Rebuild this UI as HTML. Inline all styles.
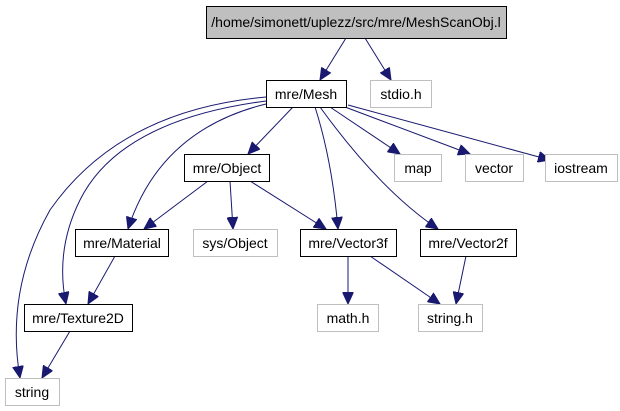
<!DOCTYPE html>
<html><head><meta charset="utf-8"><style>
body{margin:0;background:#fff}
svg{display:block}
text{font-family:"Liberation Sans",sans-serif;font-size:14px;text-anchor:middle}
</style></head><body>
<svg width="620" height="411" viewBox="0 0 620 411" xmlns="http://www.w3.org/2000/svg">
<defs><marker id="a" markerUnits="userSpaceOnUse" markerWidth="13" markerHeight="11" refX="12" refY="5.5" orient="auto"><path d="M0,0 L12,5.5 L0,11 Z" fill="#191970" stroke="#191970"/></marker></defs>
<g fill="none" stroke="#191970" stroke-width="1" marker-end="url(#a)">
<path d="M346,38 L320,80"/>
<path d="M365,38 L391,80"/>
<path d="M293,107 L248,154"/>
<path d="M330,107 L400,154"/>
<path d="M345,107 L470,154"/>
<path d="M348,105 L550,160"/>
<path d="M315,107 Q332,160 338,229"/>
<path d="M320,107 Q380,190 438,229"/>
<path d="M266,104 Q160,130 128,229"/>
<path d="M266,101 Q120,120 80,200 Q55,250 66,304"/>
<path d="M266,97 Q120,110 50,210 Q5,290 20,378"/>
<path d="M208,181 L144,229"/>
<path d="M230,181 L233,229"/>
<path d="M250,181 L326,229"/>
<path d="M115,256 L88,304"/>
<path d="M348,256 L348,304"/>
<path d="M370,256 L440,304"/>
<path d="M466,256 L456,304"/>
<path d="M70,331 L42,378"/>
</g>
<g stroke-width="1">
<rect x="206.5" y="6.5" width="300" height="32" fill="#bfbfbf" stroke="#000"/>
<rect x="266.5" y="80.5" width="80" height="27" fill="#fff" stroke="#000"/>
<rect x="370.5" y="80.5" width="61" height="27" fill="#fff" stroke="#bfbfbf"/>
<rect x="394.5" y="154.5" width="47" height="27" fill="#fff" stroke="#bfbfbf"/>
<rect x="465.5" y="154.5" width="58" height="27" fill="#fff" stroke="#bfbfbf"/>
<rect x="545.5" y="154.5" width="72" height="27" fill="#fff" stroke="#bfbfbf"/>
<rect x="184.5" y="154.5" width="85" height="27" fill="#fff" stroke="#000"/>
<rect x="75.5" y="229.5" width="93" height="27" fill="#fff" stroke="#000"/>
<rect x="193.5" y="229.5" width="84" height="27" fill="#fff" stroke="#bfbfbf"/>
<rect x="300.5" y="229.5" width="96" height="27" fill="#fff" stroke="#000"/>
<rect x="420.5" y="229.5" width="96" height="27" fill="#fff" stroke="#000"/>
<rect x="24.5" y="304.5" width="108" height="27" fill="#fff" stroke="#000"/>
<rect x="317.5" y="304.5" width="61" height="27" fill="#fff" stroke="#bfbfbf"/>
<rect x="418.5" y="304.5" width="64" height="27" fill="#fff" stroke="#bfbfbf"/>
<rect x="5.5" y="378.5" width="54" height="27" fill="#fff" stroke="#bfbfbf"/>
</g>
<text x="356" y="27">/home/simonett/uplezz/src/mre/MeshScanObj.l</text>
<text x="306" y="99">mre/Mesh</text>
<text x="401" y="99">stdio.h</text>
<text x="418" y="173">map</text>
<text x="494" y="173">vector</text>
<text x="581" y="173">iostream</text>
<text x="227" y="173">mre/Object</text>
<text x="122" y="248">mre/Material</text>
<text x="235" y="248">sys/Object</text>
<text x="348" y="248">mre/Vector3f</text>
<text x="468" y="248">mre/Vector2f</text>
<text x="78" y="323">mre/Texture2D</text>
<text x="348" y="323">math.h</text>
<text x="450" y="323">string.h</text>
<text x="32" y="397">string</text>
</svg>
</body></html>
